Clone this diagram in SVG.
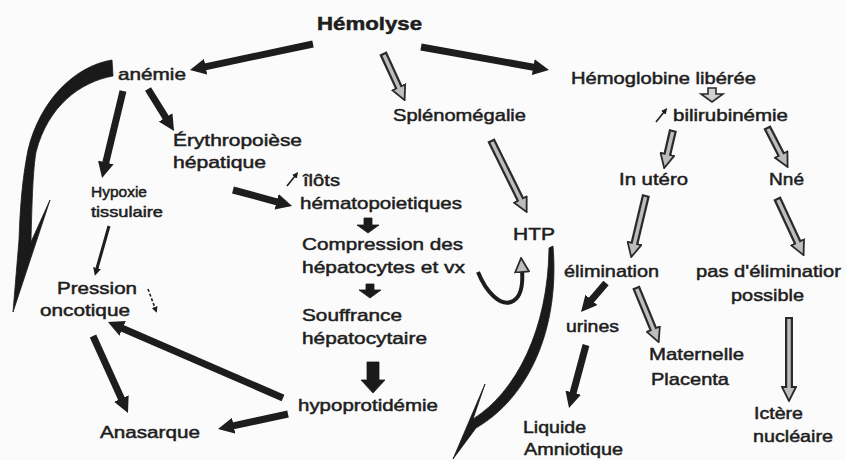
<svg xmlns="http://www.w3.org/2000/svg" width="846" height="460" viewBox="0 0 846 460">
  <defs>
    <style>
      .t { font-family: "Liberation Sans", Arial, Helvetica, sans-serif; font-size: 17px; fill: #1e1e1e; stroke: #1e1e1e; stroke-width: 0.5; }
      .sm { font-size: 15px; }
      .b { font-weight: bold; font-size: 19px; }
      .sol { fill: none; stroke: #1d1d1d; stroke-width: 7; marker-end: url(#hs); }
      .holo { fill: none; stroke: #2a2a2a; stroke-width: 8; marker-end: url(#hh); }
      .holi { fill: none; stroke: #bdbdbd; stroke-width: 3.5; }
      .thin { fill: none; stroke: #1d1d1d; stroke-width: 3; marker-end: url(#ht); }
      .tiny { fill: none; stroke: #1d1d1d; stroke-width: 1.6; marker-end: url(#hts); }
      .blob { fill: #1a1a1a; stroke: #1a1a1a; stroke-width: 0.8; stroke-linejoin: round; }
    </style>
    <marker id="hs" viewBox="0 0 16 16" refX="3" refY="8" markerWidth="16" markerHeight="16" markerUnits="userSpaceOnUse" orient="auto">
      <path d="M0,0 L16,8 L0,16 z" fill="#1d1d1d"/>
    </marker>
    <marker id="hh" viewBox="0 0 16 16" refX="3" refY="8" markerWidth="16" markerHeight="16" markerUnits="userSpaceOnUse" orient="auto">
      <path d="M1,1 L15,8 L1,15 z" fill="#bdbdbd" stroke="#2a2a2a" stroke-width="1.8" stroke-linejoin="miter"/>
    </marker>
    <marker id="ht" viewBox="0 0 8 8" refX="2" refY="4" markerWidth="8" markerHeight="8" markerUnits="userSpaceOnUse" orient="auto">
      <path d="M0,0 L8,4 L0,8 z" fill="#1d1d1d"/>
    </marker>
    <marker id="hts" viewBox="0 0 6 6" refX="1" refY="3" markerWidth="6" markerHeight="6" markerUnits="userSpaceOnUse" orient="auto">
      <path d="M0,0 L6,3 L0,6 z" fill="#1d1d1d"/>
    </marker>
  </defs>

  <rect x="0" y="0" width="846" height="460" fill="#fbfbfb"/>

  <g id="connectors">
    <!-- solid block arrows -->
    <line class="sol" x1="313" y1="44" x2="202.7" y2="67.3"/>
    <line class="sol" x1="421" y1="47" x2="536.2" y2="67.7"/>
    <line class="sol" x1="148" y1="89" x2="167.2" y2="119.9"/>
    <line class="sol" x1="123" y1="91" x2="105.1" y2="165.4"/>
    <line class="sol" x1="233" y1="190" x2="279.5" y2="202.6"/>
    <line class="sol" x1="93" y1="336" x2="122.6" y2="401.2"/>
    <line class="sol" x1="283" y1="398" x2="119.9" y2="327.2"/>
    <line class="sol" x1="288" y1="414" x2="230.7" y2="426.3"/>
    <line class="sol" x1="606" y1="283" x2="589.5" y2="302.2"/>
    <line class="sol" x1="586" y1="345" x2="572.4" y2="395.5"/>
    <polygon class="blob" points="367,362 379,362 379,380 385,380 373,393 361,380 367,380"/>
    <!-- small block arrows -->
    <polygon class="blob" points="364,218 372,218 372,225 379,225 368,233 357,225 364,225"/>
    <polygon class="blob" points="366,284 374,284 374,290 381,290 370,298 359,290 366,290"/>
    <polygon points="708,88 716,88 716,94 723,94 712,102 701,94 708,94" fill="#d0d0d0" stroke="#2a2a2a" stroke-width="1.6"/>

    <!-- hollow arrows -->
    <line class="holo" x1="383" y1="53" x2="399.6" y2="89.2"/>
    <line class="holi" x1="384" y1="55" x2="399.6" y2="89.2"/>
    <line class="holo" x1="491" y1="140" x2="521.3" y2="201.3"/>
    <line class="holi" x1="492" y1="142" x2="521.3" y2="201.3"/>
    <line class="holo" x1="673" y1="130" x2="666.9" y2="156.3"/>
    <line class="holi" x1="672.6" y1="132" x2="666.9" y2="156.3"/>
    <line class="holo" x1="767" y1="127" x2="782.1" y2="156.4"/>
    <line class="holi" x1="768" y1="129" x2="782.1" y2="156.4"/>
    <line class="holo" x1="646" y1="195" x2="634" y2="245.4"/>
    <line class="holi" x1="645.5" y1="197" x2="634" y2="245.4"/>
    <line class="holo" x1="777" y1="198" x2="798.5" y2="244.2"/>
    <line class="holi" x1="778" y1="200" x2="798.5" y2="244.2"/>
    <line class="holo" x1="636" y1="287" x2="654.1" y2="331"/>
    <line class="holi" x1="636.8" y1="289" x2="654.1" y2="331"/>
    <line class="holo" x1="789" y1="317" x2="789" y2="389"/>
    <line class="holi" x1="789" y1="319" x2="789" y2="389"/>

    <!-- thin arrows -->
    <line class="thin" x1="109" y1="226" x2="96.5" y2="270"/>
    <line class="tiny" x1="148" y1="289" x2="155" y2="308" stroke-dasharray="3 2"/>

    <!-- big curved arrow anémie -> Pression oncotique -->
    <path class="blob" d="M112,60 C75,66 40,100 28,150 C22,180 20,210 19,240 L13,312 L50,200 L31,242 C32,200 33,170 36,152 C48,106 80,82 113,76 Z"/>
    <!-- curved arrow HTP -> down -->
    <path class="blob" d="M553,246 C560,330 528,398 476,428 L453,459 L485,384 L473,419 C516,392 548,330 549,248 Z"/>
    <!-- small curved arrow compression -> HTP -->
    <path d="M478,272 C486,292 500,306 511,302 C522,298 523,283 522,270" fill="none" stroke="#1d1d1d" stroke-width="4" marker-end="url(#hh)"/>
  </g>

  <g id="n-hemolyse"><text class="t b" x="317" y="30" textLength="105" lengthAdjust="spacingAndGlyphs">Hémolyse</text></g>
  <g id="n-anemie"><text class="t" x="118" y="80" textLength="68" lengthAdjust="spacingAndGlyphs">anémie</text></g>
  <g id="n-erythropoiese">
    <text class="t" x="173" y="146" textLength="129" lengthAdjust="spacingAndGlyphs">Érythropoièse</text>
    <text class="t" x="173" y="168" textLength="93" lengthAdjust="spacingAndGlyphs">hépatique</text>
  </g>
  <g id="n-hypoxie">
    <text class="t sm" x="91" y="197" textLength="56" lengthAdjust="spacingAndGlyphs">Hypoxie</text>
    <text class="t sm" x="91" y="217" textLength="72" lengthAdjust="spacingAndGlyphs">tissulaire</text>
  </g>
  <g id="n-ilots">
    <line class="tiny" x1="287" y1="186" x2="295" y2="176"/>
    <text class="t" x="303" y="186" textLength="37" lengthAdjust="spacingAndGlyphs">îlôts</text>
    <text class="t" x="300" y="209" textLength="162" lengthAdjust="spacingAndGlyphs">hématopoietiques</text>
  </g>
  <g id="n-compression">
    <text class="t" x="302" y="250" textLength="161" lengthAdjust="spacingAndGlyphs">Compression des</text>
    <text class="t" x="302" y="273" textLength="163" lengthAdjust="spacingAndGlyphs">hépatocytes et vx</text>
  </g>
  <g id="n-souffrance">
    <text class="t" x="302" y="321" textLength="100" lengthAdjust="spacingAndGlyphs">Souffrance</text>
    <text class="t" x="302" y="344" textLength="125" lengthAdjust="spacingAndGlyphs">hépatocytaire</text>
  </g>
  <g id="n-hypoprotidemie"><text class="t" x="298" y="411" textLength="140" lengthAdjust="spacingAndGlyphs">hypoprotidémie</text></g>
  <g id="n-pression">
    <text class="t" x="57" y="294" textLength="80" lengthAdjust="spacingAndGlyphs">Pression</text>
    <text class="t" x="40" y="316" textLength="90" lengthAdjust="spacingAndGlyphs">oncotique</text>
  </g>
  <g id="n-anasarque"><text class="t" x="100" y="438" textLength="100" lengthAdjust="spacingAndGlyphs">Anasarque</text></g>
  <g id="n-splenomegalie"><text class="t" x="393" y="121" textLength="133" lengthAdjust="spacingAndGlyphs">Splénomégalie</text></g>
  <g id="n-htp"><text class="t" x="513" y="240" textLength="42" lengthAdjust="spacingAndGlyphs">HTP</text></g>
  <g id="n-hemoglobine"><text class="t" x="571" y="84" textLength="185" lengthAdjust="spacingAndGlyphs">Hémoglobine libérée</text></g>
  <g id="n-bilirubinemie">
    <line class="tiny" x1="656" y1="122" x2="664" y2="112"/>
    <text class="t" x="673" y="121" textLength="115" lengthAdjust="spacingAndGlyphs">bilirubinémie</text>
  </g>
  <g id="n-inutero"><text class="t" x="619" y="185" textLength="69" lengthAdjust="spacingAndGlyphs">In utéro</text></g>
  <g id="n-nne"><text class="t" x="769" y="185" textLength="35" lengthAdjust="spacingAndGlyphs">Nné</text></g>
  <g id="n-elimination"><text class="t" x="564" y="277" textLength="95" lengthAdjust="spacingAndGlyphs">élimination</text></g>
  <g id="n-pas-elimination">
    <text class="t" x="696" y="277" textLength="145" lengthAdjust="spacingAndGlyphs">pas d'éliminatior</text>
    <text class="t" x="731" y="301" textLength="73" lengthAdjust="spacingAndGlyphs">possible</text>
  </g>
  <g id="n-urines"><text class="t" x="566" y="332" textLength="53" lengthAdjust="spacingAndGlyphs">urines</text></g>
  <g id="n-maternelle">
    <text class="t" x="649" y="360" textLength="95" lengthAdjust="spacingAndGlyphs">Maternelle</text>
    <text class="t" x="651" y="385" textLength="78" lengthAdjust="spacingAndGlyphs">Placenta</text>
  </g>
  <g id="n-liquide">
    <text class="t" x="523" y="433" textLength="63" lengthAdjust="spacingAndGlyphs">Liquide</text>
    <text class="t" x="524" y="455" textLength="99" lengthAdjust="spacingAndGlyphs">Amniotique</text>
  </g>
  <g id="n-ictere">
    <text class="t" x="754" y="419" textLength="49" lengthAdjust="spacingAndGlyphs">Ictère</text>
    <text class="t" x="753" y="442" textLength="80" lengthAdjust="spacingAndGlyphs">nucléaire</text>
  </g>
</svg>
